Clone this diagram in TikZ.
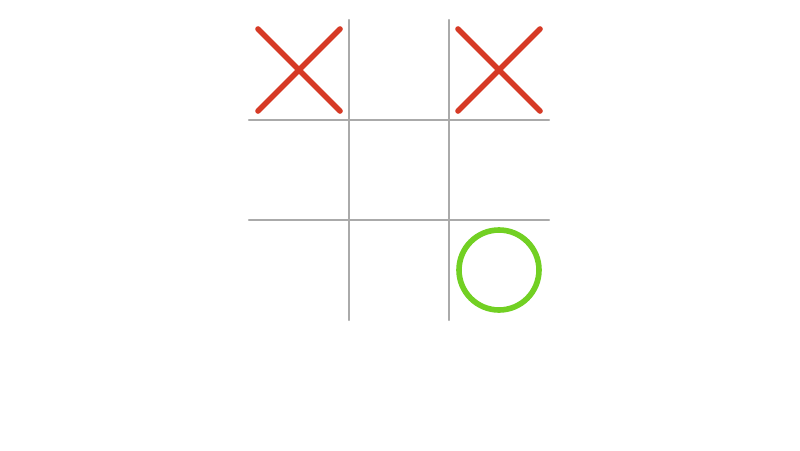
\documentclass[tikz,border=0pt]{standalone}
\definecolor{gridgray}{HTML}{AAAAAA}
\definecolor{crossred}{HTML}{D63A26}
\definecolor{noughtgreen}{HTML}{72D023}
\tikzset{gridline/.style={gridgray,line width=.6pt},
	crossmark/.style={crossred,line width=1.6pt,line cap=round},
	noughtmark/.style={noughtgreen,line width=1.6pt}}
\begin{document}
\begin{tikzpicture}[line join=round,line cap=round]
	\def\m{0.09}
	\useasboundingbox (-2.49,-1.3) rectangle (5.51,3.2);
	\foreach \i in {1,2}{
		\draw[gridline] (\i,0)--(\i,3);
		\draw[gridline] (0,\i)--(3,\i);}
	\foreach \c in {0,2}{
		\draw[crossmark] (\c+\m,3-\m)--(\c+1-\m,2+\m)
		(\c+\m,2+\m)--(\c+1-\m,3-\m);}
	\draw[noughtmark] (2.5,0.5) circle(0.4);
\end{tikzpicture}
\end{document}
